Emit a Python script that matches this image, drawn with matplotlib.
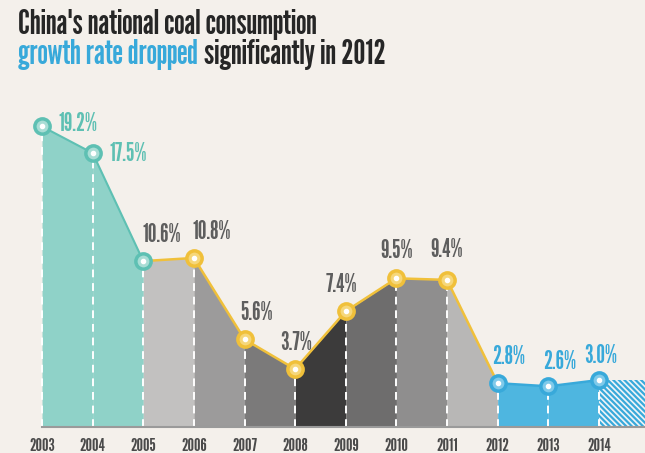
import numpy as np
import matplotlib.pyplot as plt
from matplotlib import font_manager

years = [2003, 2004, 2005, 2006, 2007, 2008, 2009, 2010, 2011, 2012, 2013, 2014]
growth = [19.2, 17.5, 10.6, 10.8, 5.6, 3.7, 7.4, 9.5, 9.4, 2.8, 2.6, 3.0]
labels = ['19.2%', '17.5%', '10.6%', '10.8%', '5.6%', '3.7%', '7.4%',
          '9.5%', '9.4%', '2.8%', '2.6%', '3.0%']
seg_colors = ['#8fd2c8', '#8fd2c8', '#c2c1c0', '#9c9b9b', '#7b7a7a', '#3c3b3b',
              '#6e6d6d', '#8f8e8e', '#b8b7b6', '#4eb6e0', '#4eb6e0']

BG = '#f4f0eb'
TEAL, YELLOW, BLUE = '#5ec0b3', '#f0c03a', '#38a9da'
GREY_TXT = '#5e5e5e'

names = {f.name for f in font_manager.fontManager.ttflist}
FONT = 'DejaVu Sans'
for cand in ['League Gothic', 'Fjalla One', 'Oswald', 'Roboto Condensed',
             'Liberation Sans Narrow']:
    if cand in names:
        FONT = cand
        break
plt.rcParams['font.family'] = [FONT, 'DejaVu Sans']
plt.rcParams['hatch.linewidth'] = 1.6

fig = plt.figure(figsize=(6.45, 4.53), dpi=100, facecolor=BG)
ax = fig.add_axes([0, 0, 1, 1])
ax.set_facecolor(BG)
ax.set_xlim(2002.17, 2014.91)
ax.set_ylim(-1.66, 27.28)
ax.axis('off')

x = np.array(years, dtype=float)
y = np.array(growth)

# coloured area under each segment
for i in range(len(x) - 1):
    ax.fill_between(x[i:i + 2], 0, y[i:i + 2], color=seg_colors[i], lw=0, zorder=1)

# 2015 projection, hatched
ax.fill_between([x[-1], 2015.2], 0, y[-1], facecolor='#eef4f7', edgecolor=BLUE,
                hatch='\\\\\\\\\\\\', lw=0, zorder=1)

# dashed white drop lines
for xi, yi in zip(x, y):
    ax.plot([xi, xi], [0, yi], color='white', lw=1.4, ls=(0, (4, 3)), zorder=2)

ax.plot([x[0], 2015.2], [0, 0], color='#9a9a9a', lw=1.5, zorder=2)

# line segments
ax.plot(x[:3], y[:3], color=TEAL, lw=1.5, zorder=3)
ax.plot(x[2:10], y[2:10], color=YELLOW, lw=1.8, zorder=3)
ax.plot(x[9:], y[9:], color=BLUE, lw=1.8, zorder=3)

mk_cols = [TEAL] * 3 + [YELLOW] * 6 + [BLUE] * 3
face_cols = ['#a9ddd5'] * 3 + ['#f6d77a'] * 6 + ['#7fcaea'] * 3
for xi, yi, ec, fc in zip(x, y, mk_cols, face_cols):
    ax.plot(xi, yi, 'o', ms=11, mfc=fc, mec=ec, mew=2.5, zorder=4)
    ax.plot(xi, yi, 'o', ms=3, color='white', zorder=5)

# value labels
txt_cols = [TEAL] * 2 + [GREY_TXT] * 7 + [BLUE] * 3
offsets = [(12, 2), (12, -1), (13, 10), (13, 10), (9, 10), (1, 10), (-3, 10),
           (0, 11), (0, 13), (8, 10), (8, 9), (1, 9)]
for i, (xi, yi) in enumerate(zip(x, y)):
    dx, dy = offsets[i]
    ha = 'left' if i < 2 else 'center'
    ax.annotate(labels[i], (xi, yi), xytext=(dx, dy), textcoords='offset points',
                ha=ha, va='center' if i < 2 else 'bottom', fontsize=17.5,
                color=txt_cols[i], zorder=6)

# year labels, partly cut by the bottom edge
for xi, yr in zip(x, years):
    ax.text(xi, -1.2, str(yr), ha='center', va='center', fontsize=13,
            color='#4a4a4a')

# title, sized from the width of the first line in the reference
fs = 21
t0 = fig.text(0.028, 0.924, "China's national coal consumption", fontsize=fs,
              color='#262626', ha='left', va='baseline')
fig.canvas.draw()
w = t0.get_window_extent().width
fs = fs * 300 / w
t0.set_fontsize(fs)
t1 = fig.text(0.028, 0.859, 'growth rate dropped', fontsize=fs,
              color=BLUE, ha='left', va='baseline')
fig.canvas.draw()
bb = t1.get_window_extent()
fig.text(bb.x1 / fig.bbox.width + 0.009, 0.859, 'significantly in 2012', fontsize=fs,
         color='#262626', ha='left', va='baseline')

fig.savefig('out.png', dpi=100, facecolor=BG)
